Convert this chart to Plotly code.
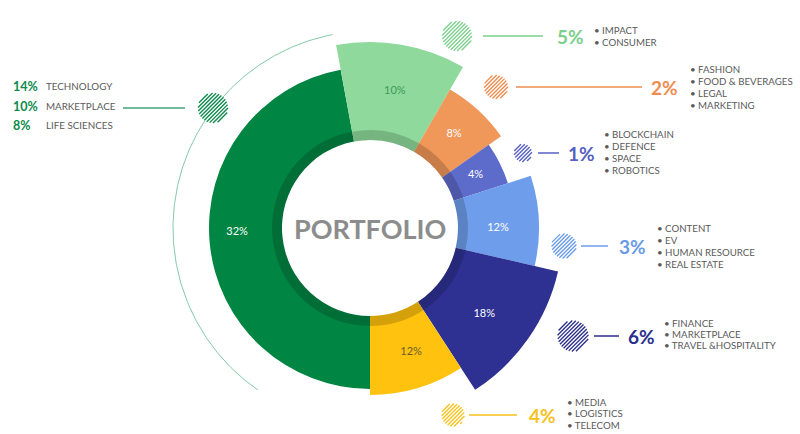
import numpy as np
import plotly.graph_objects as go

# ---------------- data ----------------
seg_labels = ["32%", "10%", "8%", "4%", "12%", "18%", "12%"]
seg_start = [180, -10.5, 30, 55, 72, 103, 147]          # degrees, clockwise from top
seg_span = [169.5, 40.5, 25, 17, 31, 44, 33]
seg_outer = [161, 186, 160, 145, 169, 193, 167]         # outer radius
seg_colors = ["#008542", "#8ED99B", "#F0975A", "#5D6BCB", "#6E9EEB", "#2E3192", "#FFC20E"]
seg_text_colors = ["#FFFFFF", "#3E9A5C", "#FFFFFF", "#FFFFFF", "#FFFFFF", "#FFFFFF", "#6B5E2E"]
seg_label_r = [133, 139, 126, 118, 128, 143, 131]
seg_label_theta = [268, 10.3, 41.8, 63.4, 90, 127, 161.7]

grp_pct = ["5%", "2%", "1%", "3%", "6%", "4%"]
grp_items = [
    ["IMPACT", "CONSUMER"],
    ["FASHION", "FOOD & BEVERAGES", "LEGAL", "MARKETING"],
    ["BLOCKCHAIN", "DEFENCE", "SPACE", "ROBOTICS"],
    ["CONTENT", "EV", "HUMAN RESOURCE", "REAL ESTATE"],
    ["FINANCE", "MARKETPLACE", "TRAVEL &HOSPITALITY"],
    ["MEDIA", "LOGISTICS", "TELECOM"],
]
grp_colors = ["#7DCF8E", "#EE8C50", "#5560C2", "#6A9BE8", "#2B2F8C", "#F7C21C"]

left_pct = ["14%", "10%", "8%"]
left_items = ["TECHNOLOGY", "MARKETPLACE", "LIFE SCIENCES"]
left_color = "#0B8A4A"

center_title = "PORTFOLIO"

# ---------------- layout geometry (pixels) ----------------
W, H = 800, 434
CX, CY = 370, 228
HOLE = 88
BAND = 10
ARC_R = 197

grp_y = [36, 87, 153, 246, 336, 415]
grp_cx = [457, 496, 523, 564, 573, 453]
grp_cr = [15, 12, 9, 12.5, 15.5, 11.5]
grp_line = [(483, 543), (516, 642), (538, 559), (581, 608), (594, 619), (469, 517)]
grp_pct_x = [555, 649, 566, 617, 626, 527]
grp_list_x = [592, 688, 602, 655, 662, 565]
grp_list_y0 = [30, 69, 134, 228, 323, 402]
grp_list_dy = [12, 12, 12, 12, 11, 11.3]

left_y = [86, 106, 125]
left_circle = (213, 108, 15)
left_line = (123, 185, 108)

FONT = "Lato"
TEXT_GRAY = "#5A5A5A"

fig = go.Figure()

# ---- thin arc (cartesian, pixel coordinates) ----
th = np.radians(np.linspace(214.7, 349, 200))
fig.add_trace(go.Scatter(
    x=CX + ARC_R * np.sin(th), y=CY - ARC_R * np.cos(th),
    mode="lines", line=dict(color="#86C9A8", width=1), hoverinfo="skip", showlegend=False))

# ---- connector lines ----
fig.add_trace(go.Scatter(x=[left_line[0], left_line[1]], y=[left_line[2], left_line[2]],
                         mode="lines", line=dict(color="#3FA57B", width=1.5),
                         hoverinfo="skip", showlegend=False))
for (x0, x1), y, c in zip(grp_line, grp_y, grp_colors):
    fig.add_trace(go.Scatter(x=[x0, x1], y=[y, y], mode="lines",
                             line=dict(color=c, width=1.5), hoverinfo="skip", showlegend=False))

# ---- hatched circles (white disc + diagonal stripes clipped to the disc) ----
def hatched_circle(cx, cy, r, color, period=2.7, lw=1.35):
    t = np.linspace(0, 2 * np.pi, 80)
    disc = go.Scatter(x=cx + r * np.cos(t), y=cy + r * np.sin(t), mode="lines",
                      line=dict(width=0, color="white"), fill="toself", fillcolor="white",
                      hoverinfo="skip", showlegend=False)
    xs, ys = [], []
    s2 = np.sqrt(0.5)
    d = -r + period / 2
    while d < r:
        h = np.sqrt(max(r * r - d * d, 0))
        px, py = cx + d * s2, cy + d * s2
        xs += [px - h * s2, px + h * s2, None]
        ys += [py + h * s2, py - h * s2, None]
        d += period
    stripes = go.Scatter(x=xs, y=ys, mode="lines", line=dict(width=lw, color=color),
                         hoverinfo="skip", showlegend=False)
    return [disc, stripes]

for tr in hatched_circle(left_circle[0], left_circle[1], left_circle[2], left_color):
    fig.add_trace(tr)
for cx, cy, r, c in zip(grp_cx, grp_y, grp_cr, grp_colors):
    for tr in hatched_circle(cx, cy, r, c):
        fig.add_trace(tr)

# ---- polar bars ----
theta_mid = [s + w / 2 for s, w in zip(seg_start, seg_span)]
fig.add_trace(go.Barpolar(
    theta=theta_mid, width=seg_span, base=[HOLE] * len(seg_outer),
    r=[o - HOLE for o in seg_outer],
    marker=dict(color=seg_colors, line=dict(width=0)),
    hoverinfo="skip", showlegend=False, subplot="polar"))
# darker inner band
fig.add_trace(go.Barpolar(
    theta=theta_mid, width=seg_span, base=[HOLE] * len(seg_outer), r=[BAND] * len(seg_outer),
    marker=dict(color="rgba(0,0,0,0.17)", line=dict(width=0)),
    hoverinfo="skip", showlegend=False, subplot="polar"))
fig.add_trace(go.Scatterpolar(
    theta=seg_label_theta, r=seg_label_r, mode="text", text=seg_labels,
    textfont=dict(family=FONT, size=11, color=seg_text_colors),
    hoverinfo="skip", showlegend=False, subplot="polar"))

# ---- annotations ----
ann = []
ann.append(dict(x=CX, y=CY, text="<b>" + center_title + "</b>", showarrow=False,
                font=dict(family=FONT, size=27, color="#8C8C8C"),
                xanchor="center", yanchor="middle", xref="x", yref="y"))

for p, lab, y in zip(left_pct, left_items, left_y):
    ann.append(dict(x=11, y=y, text="<b>" + p + "</b>", showarrow=False,
                    font=dict(family=FONT, size=12.5, color=left_color),
                    xanchor="left", yanchor="middle", xref="x", yref="y"))
    ann.append(dict(x=44, y=y, text=lab, showarrow=False,
                    font=dict(family=FONT, size=9.8, color=TEXT_GRAY),
                    xanchor="left", yanchor="middle", xref="x", yref="y"))

for i in range(len(grp_pct)):
    ann.append(dict(x=grp_pct_x[i], y=grp_y[i], text="<b>" + grp_pct[i] + "</b>", showarrow=False,
                    font=dict(family=FONT, size=19, color=grp_colors[i]),
                    xanchor="left", yanchor="middle", xref="x", yref="y"))
    for j, item in enumerate(grp_items[i]):
        ann.append(dict(x=grp_list_x[i], y=grp_list_y0[i] + j * grp_list_dy[i],
                        text="• " + item, showarrow=False,
                        font=dict(family=FONT, size=9.7, color=TEXT_GRAY),
                        xanchor="left", yanchor="middle", xref="x", yref="y"))

fig.update_layout(
    width=W, height=H, margin=dict(l=0, r=0, t=0, b=0),
    paper_bgcolor="white", plot_bgcolor="white", showlegend=False,
    xaxis=dict(range=[0, W], domain=[0, 1], visible=False, fixedrange=True),
    yaxis=dict(range=[H, 0], domain=[0, 1], visible=False, fixedrange=True),
    polar=dict(
        domain=dict(x=[(CX - 200) / W, (CX + 200) / W], y=[(H - CY - 200) / H, (H - CY + 200) / H]),
        bgcolor="rgba(0,0,0,0)", barmode="overlay", bargap=0, hole=0,
        radialaxis=dict(range=[0, 200], visible=False),
        angularaxis=dict(direction="clockwise", rotation=90, visible=False),
    ),
    annotations=ann,
    hovermode=False,
)

fig.write_html("out.html")
